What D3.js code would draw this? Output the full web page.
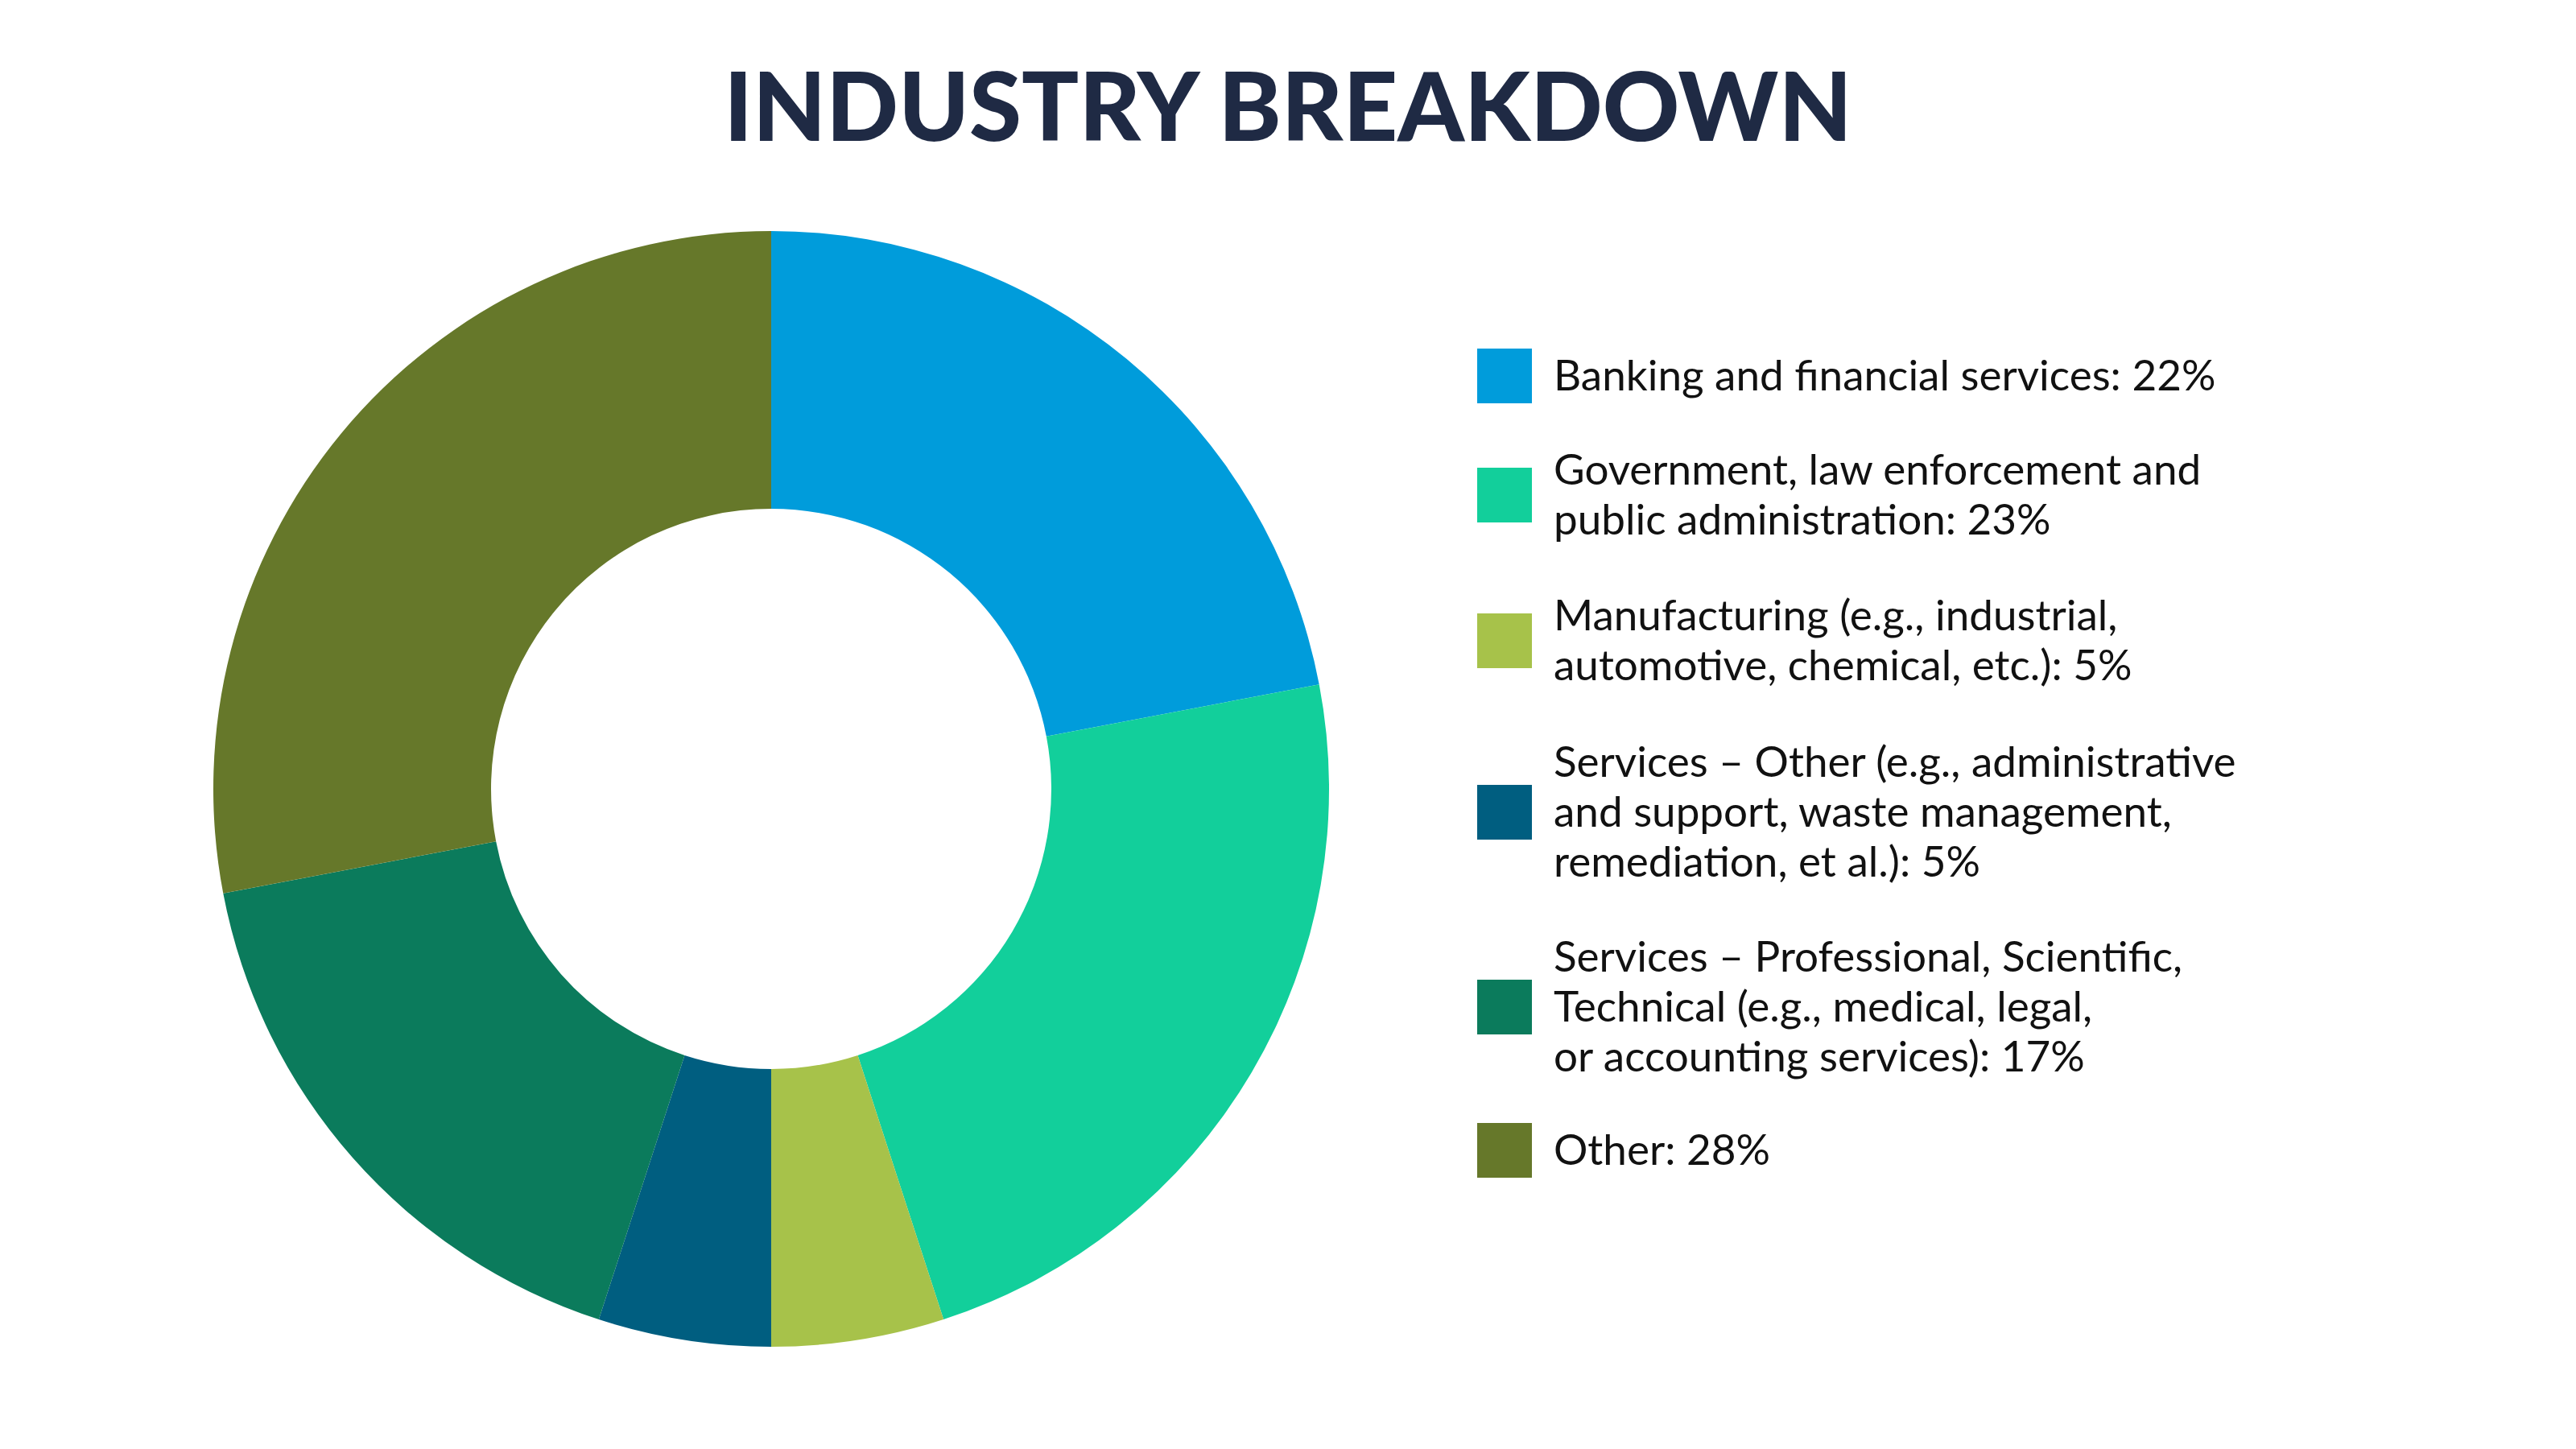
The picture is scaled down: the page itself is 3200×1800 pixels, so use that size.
<!DOCTYPE html>
<html lang="en">
<head>
<meta charset="UTF-8">
<title>Industry Breakdown</title>
<style>
  body { margin: 0; background: #fff; }
  text { font-family: "Lato", "Open Sans", sans-serif; }
</style>
</head>
<body>
<div id="chart"></div>
<script src="https://d3js.org/d3.v7.min.js"></script>
<script>
    // Data
    var categories = [
        ["Banking and financial services: 22%"],
        ["Government, law enforcement and", "public administration: 23%"],
        ["Manufacturing (e.g., industrial,", "automotive, chemical, etc.): 5%"],
        ["Services \u2013 Other (e.g., administrative", "and support, waste management,", "remediation, et al.): 5%"],
        ["Services \u2013 Professional, Scientific,", "Technical (e.g., medical, legal,", "or accounting services): 17%"],
        ["Other: 28%"]
    ];
    var values = [22, 23, 5, 5, 17, 28];
    var colors = ["#009cdb", "#12cf9b", "#a7c24a", "#005e80", "#0b7b5c", "#66782a"];
    var legendY = [467, 615, 796, 1009, 1251, 1429];

    var width = 3200, height = 1800;
    var svg = d3.select("#chart").append("svg")
        .attr("width", width).attr("height", height);

    // Title
    svg.append("text")
        .attr("x", 1600).attr("y", 175)
        .attr("text-anchor", "middle")
        .attr("font-size", 118).attr("font-weight", 900)
        .attr("fill", "#1f2a44")
        .text("INDUSTRY BREAKDOWN");

    // Donut
    var pie = d3.pie().sort(null).value(d => d);
    var arc = d3.arc().innerRadius(348).outerRadius(693);
    var g = svg.append("g").attr("transform", "translate(958,980)");
    g.selectAll("path")
        .data(pie(values))
        .enter().append("path")
        .attr("d", arc)
        .attr("fill", (d, i) => colors[i]);

    // Legend
    var lineH = 62;
    var leg = svg.append("g").selectAll("g")
        .data(categories)
        .enter().append("g")
        .attr("transform", (d, i) => "translate(1835," + legendY[i] + ")");
    leg.append("rect")
        .attr("x", 0).attr("y", -34).attr("width", 68).attr("height", 68)
        .attr("fill", (d, i) => colors[i]);
    leg.each(function (lines) {
        var t = d3.select(this).append("text")
            .attr("font-size", 53).attr("fill", "#111");
        var off = -(lines.length - 1) * lineH / 2;
        lines.forEach(function (l, j) {
            t.append("tspan")
                .attr("x", 95)
                .attr("y", off + j * lineH + 18)
                .text(l);
        });
    });
</script>
</body>
</html>
